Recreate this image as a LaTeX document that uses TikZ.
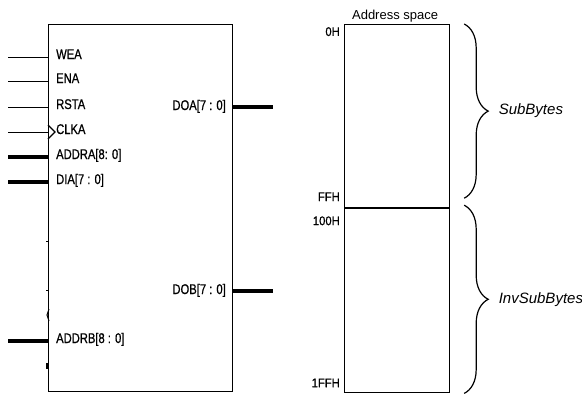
\documentclass[tikz,border=0pt]{standalone}
\usepackage{fontspec}
\setmainfont{Liberation Sans}
\newfontfamily\pinfont[FakeStretch=0.8,FakeBold=0.8]{Liberation Sans}
\newfontfamily\addrfont[FakeStretch=0.9,FakeBold=0.8]{Liberation Sans}
\usetikzlibrary{positioning,calc,decorations.pathreplacing}

\begin{document}
\begin{tikzpicture}[
    x=1pt, y=-1pt,
    wire/.style={line width=1pt},
    bus/.style={line width=4pt},
    box/.style={draw, line width=1.2pt, inner sep=0pt, anchor=north west},
    pinlabel/.style={font=\pinfont\fontsize{14}{14}\selectfont, inner sep=0pt},
    addrlabel/.style={font=\addrfont\fontsize{12.5}{12.5}\selectfont, inner sep=0pt},
    membrace/.style={decorate, decoration={brace, amplitude=24pt}, line width=1.2pt}
]
\useasboundingbox (0,0) rectangle (582,394);

% BRAM block
\node[box, minimum width=184pt, minimum height=367pt] (bram) at (48,24) {};

% port A inputs
\foreach \name/\txt/\yy/\kind in {wea/WEA/57/wire, ena/ENA/81/wire, rsta/RSTA/107/wire,
    clka/CLKA/132/wire, addra/{ADDRA[8: 0]}/157/bus, dia/{DIA[7 : 0]}/182/bus,
    addrb/{ADDRB[8 : 0]}/341/bus} {
  \coordinate (\name) at (48,\yy);
  \draw[\kind] (\name) -- ++(-40,0);
  \node[pinlabel, anchor=base west] (\name txt) at ($(\name)+(8,2)$) {\txt};
}
% clock mark
\draw[line width=1.2pt] ($(clka)+(0,-7)$) -- ++(7,7) -- ++(-7,7);

% remnants of hidden port B pins
\draw[wire] (48,241) -- ++(-2,0);
\draw[wire] (48,290) -- ++(-2,0);
\draw[wire] (49,309) -- ++(-2,6) -- ++(2,6);
\draw[line width=2pt] (47,363) -- ++(0,6);

% outputs
\foreach \name/\txt/\yy in {doa/{DOA[7 : 0]}/107, dob/{DOB[7 : 0]}/291} {
  \coordinate (\name) at (232,\yy);
  \draw[bus] (\name) -- ++(41,0);
  \node[pinlabel, anchor=base east] (\name txt) at ($(\name)+(-6,3)$) {\txt};
}

% address space
\node[box, minimum width=105pt, minimum height=183pt] (sbox) at (344,24) {};
\node[box, minimum width=105pt, minimum height=184pt] (ibox) at (sbox.south west) {};
\node[font=\fontsize{13}{13}\selectfont, inner sep=0pt, anchor=base] (title) at ($(sbox.north)+(-2,-5)$) {Address space};

\node[addrlabel, anchor=north east] (a0) at ($(sbox.north west)+(-4,3)$) {0H};
\node[addrlabel, anchor=south east] (aff) at ($(sbox.south west)+(-4,-7)$) {FFH};
\node[addrlabel, anchor=north east] (a100) at ($(ibox.north west)+(-4,8)$) {100H};
\node[addrlabel, anchor=south east] (a1ff) at ($(ibox.south west)+(-4,-6)$) {1FFH};

% braces
\draw[membrace] ($(sbox.north east)+(14,0)$) -- ($(sbox.south east)+(14,-10)$)
    node[midway, right=34pt, inner sep=0pt, font=\itshape\fontsize{15}{15}\selectfont] (sub) {SubBytes};
\draw[membrace] ($(ibox.north east)+(14,-3)$) -- ($(ibox.south east)+(14,0)$)
    node[midway, right=34pt, inner sep=0pt, font=\itshape\fontsize{15}{15}\selectfont] (inv) {InvSubBytes};

\end{tikzpicture}
\end{document}
